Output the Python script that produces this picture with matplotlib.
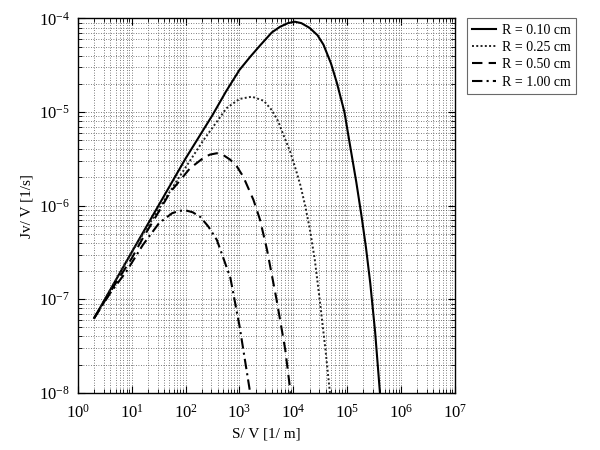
"""Jv/V versus S/V for several radii"""

import matplotlib
matplotlib.use("Agg")
import matplotlib.pyplot as plt
from matplotlib.ticker import LogLocator, NullFormatter

plt.rcParams["font.family"] = ["Liberation Serif", "DejaVu Serif"]
plt.rcParams["mathtext.fontset"] = "stix"

# R = 0.10 cm
sv_010 = [2, 10, 100, 316, 562, 1000, 1580, 2400, 3980, 5620, 7940, 10700,
          14100, 20000, 28200, 36300, 50100, 64600, 89100, 115000, 148000,
          186000, 224000, 269000, 331000, 407000]
jv_010 = [6.3e-8, 3.2e-7, 3.2e-6, 9.3e-6, 1.66e-5, 2.82e-5, 3.89e-5, 5.13e-5,
          7.08e-5, 8.13e-5, 8.91e-5, 9.23e-5, 8.91e-5, 7.94e-5, 6.61e-5,
          5.25e-5, 3.31e-5, 2.04e-5, 1.0e-5, 4.17e-6, 1.78e-6, 7.59e-7,
          3.55e-7, 1.48e-7, 4.47e-8, 1.0e-8]

# R = 0.25 cm
sv_025 = [2, 10, 32, 79, 214, 575, 1000, 1700, 2820, 3980, 5250, 6600, 8710,
          11200, 13500, 16600, 20400, 25100, 31600, 39800, 47900]
jv_025 = [6.3e-8, 3.2e-7, 9.3e-7, 2.09e-6, 5.0e-6, 1.1e-5, 1.38e-5, 1.46e-5,
          1.32e-5, 1.05e-5, 7.94e-6, 5.62e-6, 3.8e-6, 2.4e-6, 1.66e-6, 1.0e-6,
          5.5e-7, 2.63e-7, 8.9e-8, 2.8e-8, 1.0e-8]

# R = 0.50 cm
sv_050 = [2, 5, 10, 16, 32, 51, 120, 214, 282, 380, 501, 676, 891, 1175,
          1820, 2400, 3240, 4900, 7080, 8900]
jv_050 = [6.3e-8, 1.48e-7, 2.75e-7, 4.5e-7, 8.7e-7, 1.38e-6, 2.5e-6, 3.24e-6,
          3.51e-6, 3.63e-6, 3.47e-6, 3.09e-6, 2.63e-6, 2.04e-6, 1.15e-6,
          7.1e-7, 3.4e-7, 9.8e-8, 2.9e-8, 1.0e-8]

# R = 1.00 cm
sv_100 = [2, 4, 8, 16, 32, 56, 76, 100, 135, 186, 263, 380, 676, 1000, 1580]
jv_100 = [6.3e-8, 1.17e-7, 2.0e-7, 3.8e-7, 6.5e-7, 8.3e-7, 8.8e-7, 8.9e-7,
          8.5e-7, 7.6e-7, 6.0e-7, 4.3e-7, 1.7e-7, 5.2e-8, 1.0e-8]

labels = ["R = 0.10 cm", "R = 0.25 cm", "R = 0.50 cm", "R = 1.00 cm"]


def main():
    fig = plt.figure(figsize=(6, 4.5), dpi=100)
    axe = fig.add_axes([0.13, 0.127, 0.628, 0.832])

    axe.plot(sv_010, jv_010, color="k", linestyle="-", linewidth=1.5, label=labels[0])
    axe.plot(sv_025, jv_025, color="#222222", linestyle=(0, (1, 1.2)), linewidth=1.4, label=labels[1])
    axe.plot(sv_050, jv_050, color="k", linestyle=(0, (5, 3)), linewidth=1.5, label=labels[2])
    axe.plot(sv_100, jv_100, color="k", linestyle=(0, (5, 2, 1, 2)), linewidth=1.5, label=labels[3])

    axe.set_xscale("log")
    axe.set_yscale("log")
    axe.set_xlim(1, 1e7)
    axe.set_ylim(1e-8, 1e-4)

    for axis in (axe.xaxis, axe.yaxis):
        axis.set_major_locator(LogLocator(base=10, numticks=20))
        axis.set_minor_locator(LogLocator(base=10, subs=range(2, 10), numticks=20))
        axis.set_minor_formatter(NullFormatter())

    axe.grid(True, which="both", color="#555555", linestyle=(0, (1, 2)), linewidth=0.6)
    axe.tick_params(which="both", direction="in", top=True, right=True, labelsize=12)
    axe.tick_params(axis="x", which="major", pad=8)
    axe.tick_params(axis="y", which="major", pad=6)
    axe.tick_params(which="major", length=5)
    axe.tick_params(which="minor", length=3)
    for spine in axe.spines.values():
        spine.set_linewidth(1.0)

    axe.set_xlabel("S/ V [1/ m]", fontsize=11)
    axe.set_ylabel("Jv/ V [1/s]", fontsize=11)

    leg = axe.legend(loc="upper left", bbox_to_anchor=(0.778, 0.959),
                     bbox_transform=fig.transFigure, fancybox=False,
                     edgecolor="#444444", fontsize=10, handlelength=1.7,
                     borderaxespad=0, labelspacing=0.3, handletextpad=0.4)
    leg.get_frame().set_linewidth(0.8)

    fig.savefig("out.png", dpi=100)


if __name__ == "__main__":
    main()
